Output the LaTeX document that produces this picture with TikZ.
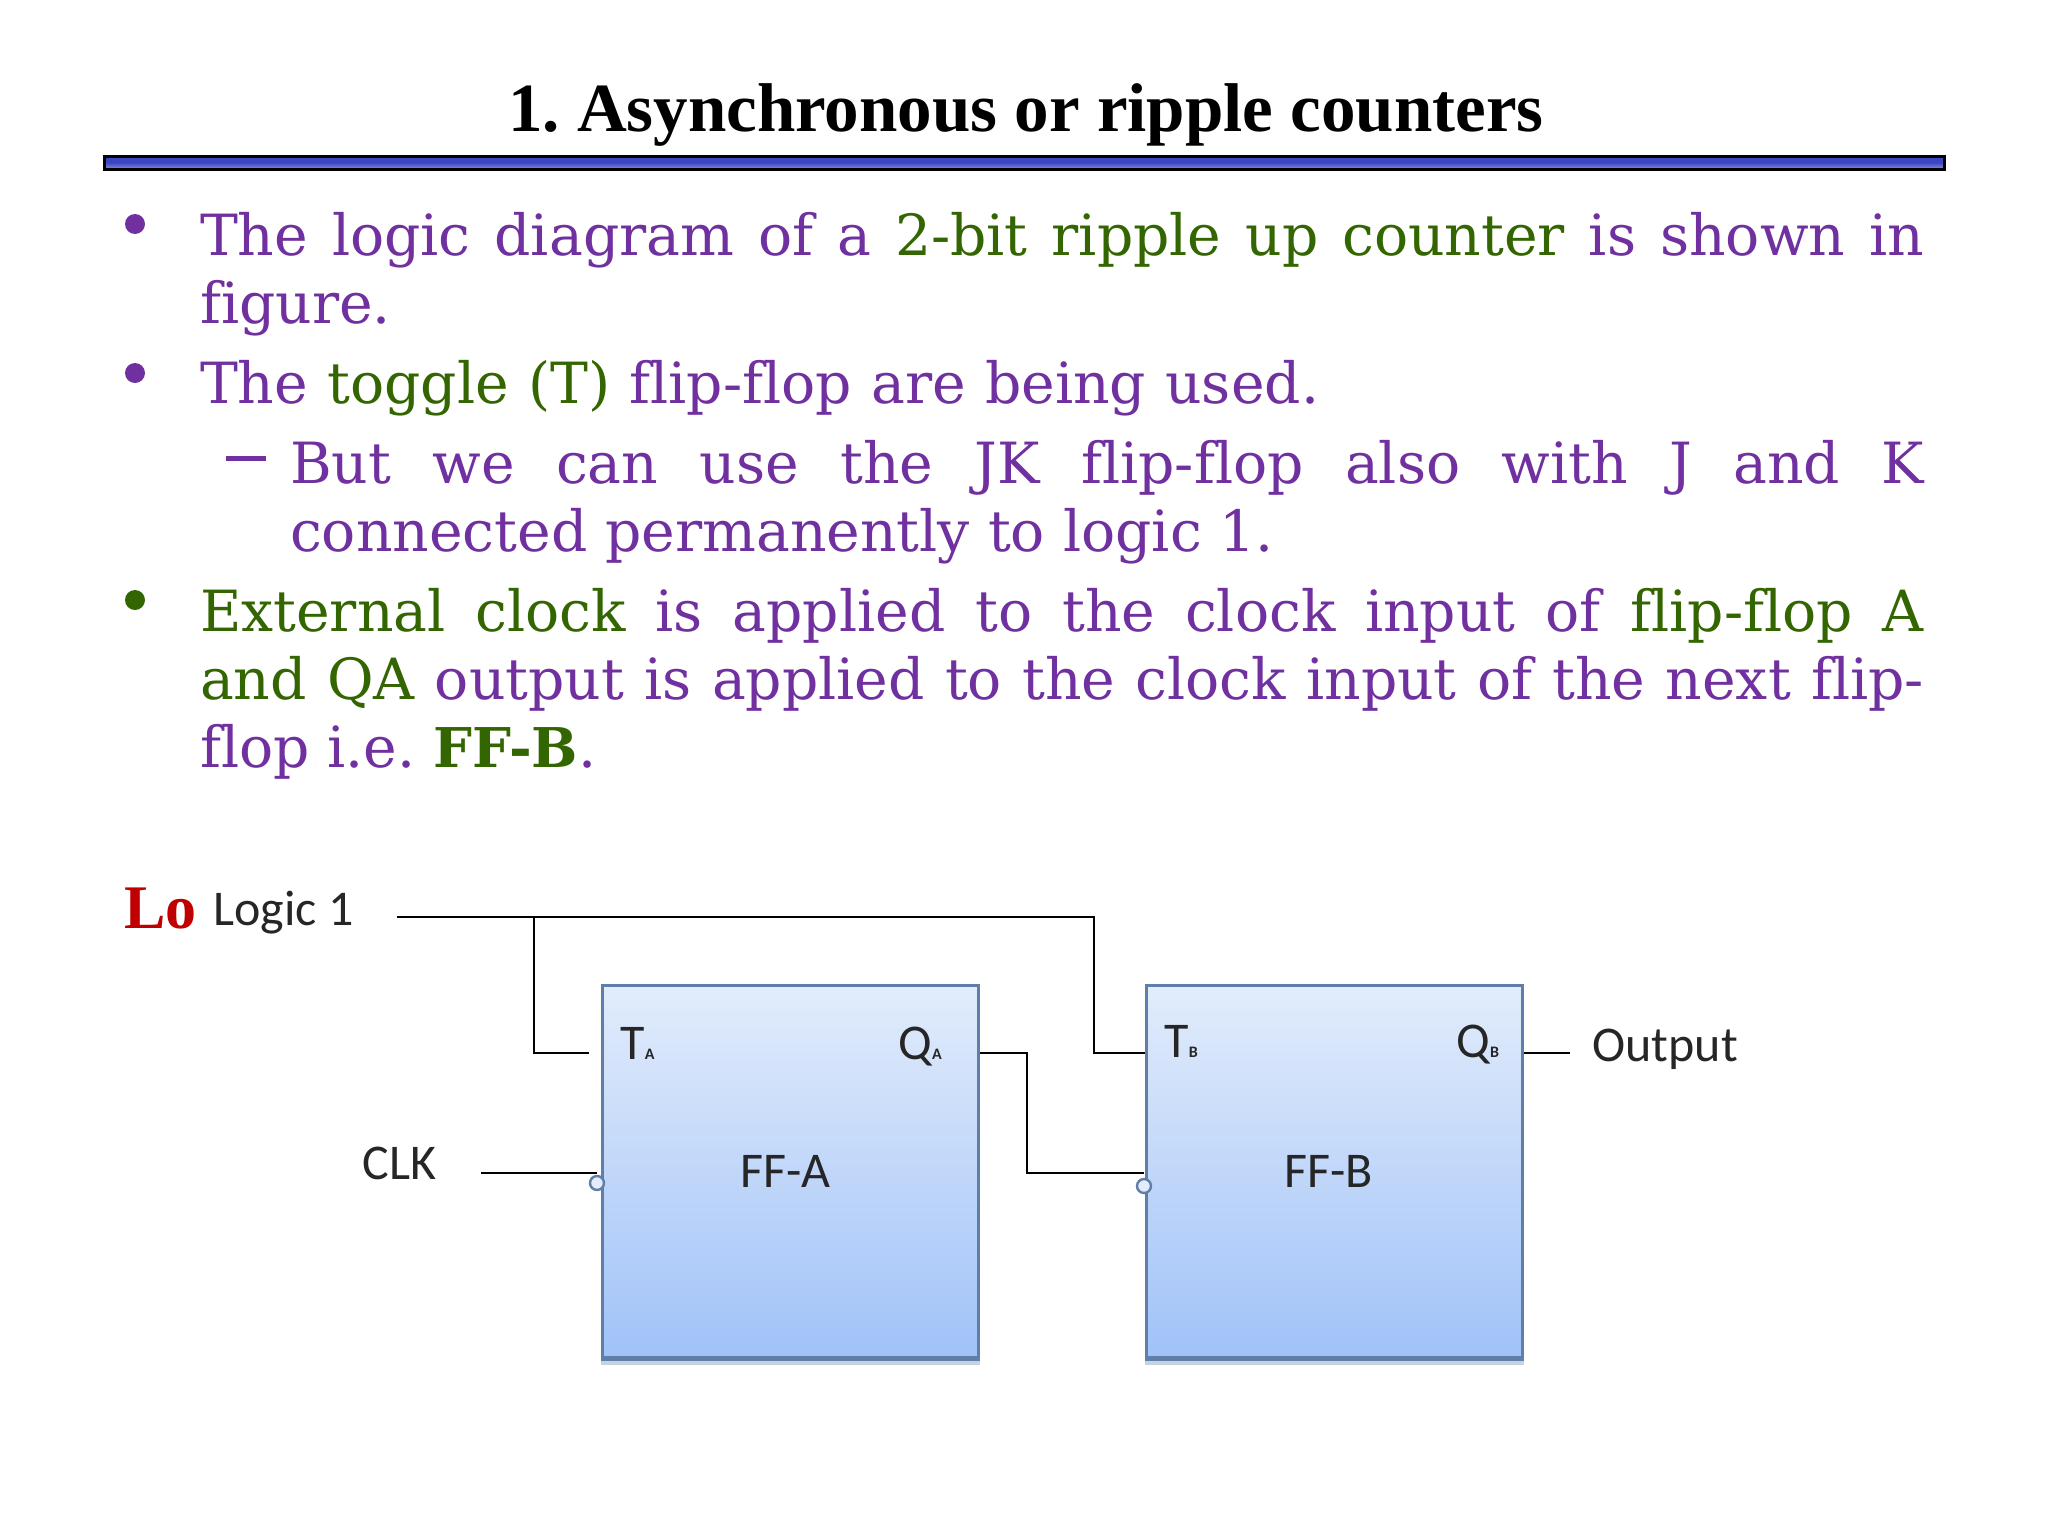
\documentclass[tikz,border=0pt]{standalone}
\usepackage{fontspec}
\setmainfont[Ligatures=NoCommon]{DejaVu Serif}
\newfontfamily\titlefont{Liberation Serif}
\newfontfamily\labelfont{Carlito}
\usetikzlibrary{calc}
\definecolor{pur}{HTML}{7030A0}
\definecolor{grn}{HTML}{336600}
\definecolor{redl}{HTML}{C00000}
\definecolor{barblue}{HTML}{3A45C0}
\definecolor{ffline}{HTML}{5F7FA8}
\definecolor{fftop}{HTML}{E2ECFB}
\definecolor{ffbot}{HTML}{A0C2F8}
\tikzset{
  x=0.5pt,y=-0.5pt,
  body/.style={anchor=base west,inner sep=0pt,outer sep=0pt,font=\fontsize{28.4}{28.4}\selectfont,text=pur},
  bul/.style={circle,inner sep=0pt,minimum size=10pt,draw=none},
  wire/.style={draw=black,line width=1.4pt},
  ffbox/.style={draw=ffline,line width=1.5pt,top color=fftop,bottom color=ffbot,minimum width=188pt,minimum height=186pt,inner sep=0pt,anchor=north west},
  lab/.style={font=\labelfont\fontsize{25}{25}\selectfont,text=black!85,inner sep=0pt,anchor=base west},
  bubble/.style={circle,draw=ffline,fill=fftop,line width=1.2pt,inner sep=0pt,minimum size=7pt},
  ffbase/.style={draw=ffline,line width=2pt},
  ffshade/.style={draw=ffline!35,line width=2pt},
}
\newcommand{\fl}[2]{\makebox[#1pt][s]{#2}}
\newcommand{\sbs}[1]{{\fontsize{8}{8}\selectfont\bfseries #1}}
\begin{document}
\begin{tikzpicture}
\useasboundingbox (0,0) rectangle (2048,1536);
\node[anchor=base,inner sep=0pt,font=\titlefont\bfseries\fontsize{34.5}{34.5}\selectfont] (title) at (1026,132) {1.\hspace{-3pt} Asynchronous or ripple counters};
\path[draw=black,line width=1.5pt,top color=barblue,bottom color=barblue!60!white,middle color=barblue] (104,156) rectangle (1944,169);
\node[bul,fill=pur] (b1) at (135,224) {};
\node[bul,fill=pur] (b2) at (135,373) {};
\node[bul,fill=grn] (b3) at (135,600) {};
\fill[pur] (226,456) rectangle (266,461);
\node[body] (l1) at (200,255) {\fl{862}{The logic diagram of a \textcolor{grn}{2-bit ripple up counter} is shown in}};
\node[body] (l2) at (200,323) {figure.};
\node[body] (l3) at (200,403) {\fl{559.6}{The \textcolor{grn}{toggle (T)} flip-flop are being used.}};
\node[body] (l4) at (290,483) {\fl{817}{But we can use the JK flip-flop also with J and K}};
\node[body] (l5) at (290,551) {\fl{492}{connected permanently to logic 1.}};
\node[body] (l6) at (200,631) {\fl{862}{\textcolor{grn}{External clock} is applied to the clock input of \textcolor{grn}{flip-flop A}}};
\node[body] (l7) at (200,699) {\fl{862}{\textcolor{grn}{and QA} output is applied to the clock input of the next flip-}};
\node[body] (l8) at (200,767) {flop i.e.\hspace{-3pt} \textcolor{grn}{\bfseries\fontsize{27.4}{27.4}\selectfont FF-B}.};
\node[body,text=redl,font=\titlefont\bfseries\fontsize{31}{31}\selectfont] (lo) at (124,928) {Lo};
% circuit
\node[ffbox] (ffa) at (601,984) {};
\node[ffbox] (ffb) at (1145,984) {};
\draw[ffshade] ($(ffa.south west)+(0,4)$) -- ($(ffa.south east)+(0,4)$);
\draw[ffshade] ($(ffb.south west)+(0,4)$) -- ($(ffb.south east)+(0,4)$);
\draw[ffbase] (ffa.south west) -- (ffa.south east);
\draw[ffbase] (ffb.south west) -- (ffb.south east);
\node[lab] (logic) at (213,925) {Logic 1};
\node[lab] (clk) at (362,1179) {CLK};
\node[lab] (out) at (1592,1061) {Output};
\node[lab] (ta) at (620,1059) {T\sbs{A}};
\node[lab] (qa) at (898,1059) {Q\sbs{A}};
\node[lab] (tb) at (1164,1057) {T\sbs{B}};
\node[lab] (qb) at (1456,1057) {Q\sbs{B}};
\node[lab] (fa) at (740,1187) {FF-A};
\node[lab] (fb) at (1284,1187) {FF-B};
\node[bubble] (ba) at (597,1183) {};
\node[bubble] (bb) at (1144,1186) {};
\coordinate (ls) at (397,917);
\coordinate (j1) at (534,917);
\coordinate (j2) at (1094,917);
\coordinate (ce) at (481,1173);
\coordinate (cq) at (1027,1173);
\coordinate (oe) at (1570,1053);
\draw[wire] (ls) -- (j2) |- ($(ffb.north west)+(0,69)$);
\draw[wire] (j1) |- (589,1053);
\draw[wire] (ce) -- (ce -| ba);
\draw[wire] ($(ffa.north east)+(0,69)$) -| (cq) -- (cq -| bb);
\draw[wire] ($(ffb.north east)+(0,69)$) -- (oe);
\end{tikzpicture}
\end{document}
